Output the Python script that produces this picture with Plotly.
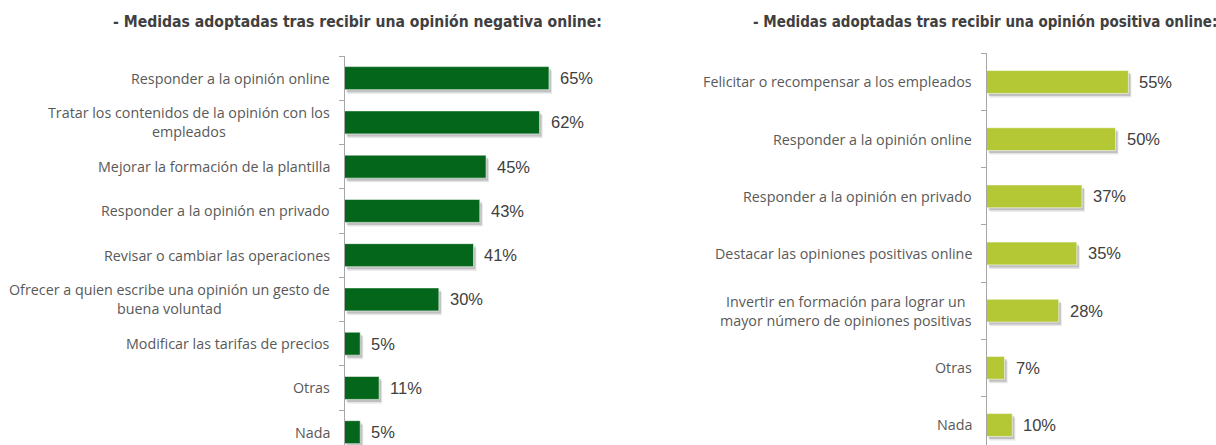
import plotly.graph_objects as go

# --- data -------------------------------------------------------------
neg_labels = [
    "Responder a la opinión online",
    "Tratar los contenidos de la opinión con los<br>empleados",
    "Mejorar la formación de la plantilla",
    "Responder a la opinión en privado",
    "Revisar o cambiar las operaciones",
    "Ofrecer a quien escribe una opinión un gesto de<br>buena voluntad",
    "Modificar las tarifas de precios",
    "Otras",
    "Nada",
]
neg_values = [65, 62, 45, 43, 41, 30, 5, 11, 5]

pos_labels = [
    "Felicitar o recompensar a los empleados",
    "Responder a la opinión online",
    "Responder a la opinión en privado",
    "Destacar las opiniones positivas online",
    "Invertir en formación para lograr un<br>mayor número de opiniones positivas",
    "Otras",
    "Nada",
]
pos_values = [55, 50, 37, 35, 28, 7, 10]

neg_title = "- Medidas adoptadas tras recibir una opinión negativa online:"
pos_title = "- Medidas adoptadas tras recibir una opinión positiva online:"

# --- style ------------------------------------------------------------
W, H = 1216, 445
NEG_COLOR = "#04661A"
POS_COLOR = "#B4C836"
LABEL_COLOR = "#595959"
VALUE_COLOR = "#404040"
AXIS_COLOR = "#A6A6A6"
LABEL_FONT = "Open Sans"
VALUE_FONT = "Liberation Sans"
TITLE_FONT = "DejaVu Sans Condensed, Roboto, sans-serif"


def px_x(p):
    return p / W


def px_y(p):
    return (H - p) / H


fig = go.Figure()

panels = [
    dict(labels=neg_labels, values=neg_values, color=NEG_COLOR, xa="x", ya="y",
         width=0.52, xmax=100, ppx=3.146, ppc=44.25),
    dict(labels=pos_labels, values=pos_values, color=POS_COLOR, xa="x2", ya="y2",
         width=0.40, xmax=80, ppx=2.58, ppc=57.17),
]

for p in panels:
    # soft drop shadow: two translucent layers shifted right/down
    for (dx, dy, alpha) in [(3.0, 4.0, 0.10), (2.0, 2.5, 0.16)]:
        fig.add_trace(go.Bar(
            x=p["values"], y=p["labels"], orientation="h",
            base=dx / p["ppx"], width=p["width"],
            offset=-p["width"] / 2 + dy / p["ppc"],
            marker=dict(color=f"rgba(0,0,0,{alpha})", line=dict(width=0)),
            xaxis=p["xa"], yaxis=p["ya"], hoverinfo="skip", showlegend=False,
        ))
    fig.add_trace(go.Bar(
        x=p["values"], y=p["labels"], orientation="h", width=p["width"],
        marker=dict(color=p["color"], line=dict(color="rgba(255,255,255,0.55)", width=1)),
        xaxis=p["xa"], yaxis=p["ya"], showlegend=False,
    ))

annotations = []
for p in panels:
    xdom = "x domain" if p["xa"] == "x" else "x2 domain"
    for lab, val in zip(p["labels"], p["values"]):
        annotations.append(dict(
            xref=xdom, x=0, yref=p["ya"], y=lab, text=lab, showarrow=False,
            xanchor="right", yanchor="middle", align="center", xshift=-13,
            font=dict(family=LABEL_FONT, size=14.3, color=LABEL_COLOR),
        ))
        annotations.append(dict(
            xref=p["xa"], x=val, yref=p["ya"], y=lab, text=f"{val}%", showarrow=False,
            xanchor="left", yanchor="middle", xshift=9,
            font=dict(family=VALUE_FONT, size=16.5, color=VALUE_COLOR),
        ))

for text, cx, size in [(neg_title, 357.5, 15.6), (pos_title, 985, 15)]:
    annotations.append(dict(
        xref="paper", yref="paper", x=px_x(cx), y=px_y(22), text=f"<b>{text}</b>",
        showarrow=False, xanchor="center", yanchor="middle",
        font=dict(family=TITLE_FONT, size=size, color=VALUE_COLOR),
    ))

yaxis_common = dict(
    type="category", showticklabels=False, showgrid=False, zeroline=False,
    showline=True, linecolor=AXIS_COLOR, linewidth=1,
    ticks="outside", ticklen=5, tickcolor=AXIS_COLOR, tickson="boundaries",
)
xaxis_common = dict(visible=False, showgrid=False, zeroline=False)

fig.update_layout(
    width=W, height=H,
    margin=dict(l=0, r=0, t=0, b=0),
    paper_bgcolor="white", plot_bgcolor="white",
    barmode="overlay",
    xaxis=dict(domain=[px_x(344.5), px_x(344.5 + 314.6)], range=[0, 100], anchor="y", **xaxis_common),
    yaxis=dict(domain=[0, px_y(56)], range=[8.29, -0.5], anchor="x", **yaxis_common),
    xaxis2=dict(domain=[px_x(986.5), px_x(986.5 + 206.4)], range=[0, 80], anchor="y2", **xaxis_common),
    yaxis2=dict(domain=[0, px_y(53.4)], range=[6.35, -0.5], anchor="x2", **yaxis_common),
    annotations=annotations,
)

fig.write_html("out.html")
